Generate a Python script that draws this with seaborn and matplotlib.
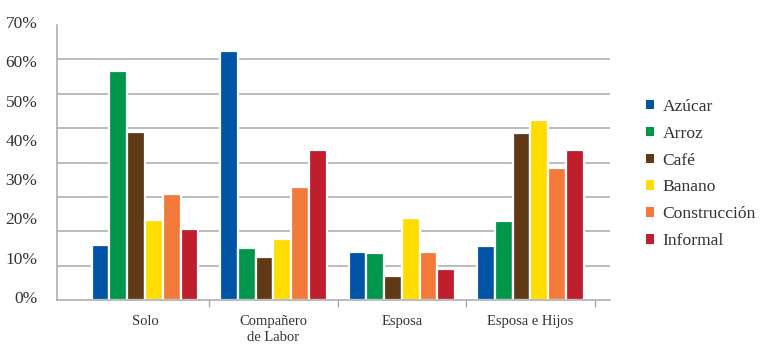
import numpy as np
import pandas as pd
import matplotlib
matplotlib.use("Agg")
import matplotlib.pyplot as plt
import matplotlib.transforms as mtransforms
import seaborn as sns

# datos (%)
categories = ["Solo", "Compañero\nde Labor", "Esposa", "Esposa e Hijos"]
sectors = ["Azúcar", "Arroz", "Café", "Banano", "Construcción", "Informal"]
azucar = [14.0, 63.5, 12.2, 13.7]
arroz = [58.3, 13.3, 12.0, 20.2]
cafe = [42.8, 11.0, 6.1, 42.5]
banano = [20.4, 15.6, 20.9, 45.7]
construccion = [26.9, 28.8, 12.2, 33.7]
informal = [18.2, 38.1, 7.8, 38.2]
y_labels = ["0%", "10%", "20%", "30%", "40%", "50%", "60%", "70%"]

colors = ["#0054A6", "#00964B", "#603A17", "#FFDD00", "#F47A3C", "#BE1E2D"]

series = [azucar, arroz, cafe, banano, construccion, informal]
rows = []
for sector, vals in zip(sectors, series):
    for cat, v in zip(categories, vals):
        rows.append({"grupo": cat, "sector": sector, "valor": v})
df = pd.DataFrame(rows)

sns.set_theme(style="white")
plt.rcParams['font.family'] = ['Liberation Serif', 'DejaVu Serif']
text_color = "#333333"
grid_color = "#a8a8a8"

fig = plt.figure(figsize=(7.62, 3.46), dpi=100)
ax = fig.add_axes([57 / 762, 1 - 300 / 346, (610 - 57) / 762, 275 / 346])

sns.barplot(data=df, x="grupo", y="valor", hue="sector", order=categories,
            hue_order=sectors, palette=colors, width=0.83, edgecolor="white",
            linewidth=1.6, saturation=1, ax=ax)

ax.set_ylim(0, 70)
ax.set_xlim(-0.685, 3.62)
ax.set_xlabel("")
ax.set_ylabel("")

# lineas de cuadricula (8 intervalos)
ax.set_axisbelow(True)
ax.set_yticks(range(0, 80, 10))
ax.set_yticklabels(y_labels, fontsize=12.5, color=text_color)
ax.set_yticks(np.linspace(0, 70, 9), minor=True)
ax.grid(False)
ax.grid(which="minor", axis="y", color=grid_color, linewidth=1.1)
ax.tick_params(axis="y", which="both", length=0, pad=14)

ax.set_xticks(range(len(categories)))
ax.set_xticklabels(categories, fontsize=10.5, color=text_color, linespacing=1.3)
ax.set_xticks([0.5, 1.5, 2.5, 3.5], minor=True)
ax.tick_params(axis="x", which="major", length=0, pad=11)
ax.tick_params(axis="x", which="minor", length=5, width=1, color=grid_color,
               bottom=True)

for side in ["top", "right"]:
    ax.spines[side].set_visible(False)
for side in ["left", "bottom"]:
    ax.spines[side].set_color(grid_color)
    ax.spines[side].set_linewidth(1.1)

# etiquetas del eje y un poco desplazadas hacia arriba
offset = mtransforms.ScaledTranslation(0, 3 / 100, fig.dpi_scale_trans)
for lbl in ax.get_yticklabels():
    lbl.set_transform(lbl.get_transform() + offset)

handles, labels = ax.get_legend_handles_labels()
ax.legend(handles, labels, loc="center left",
          bbox_to_anchor=(646 / 762, 1 - 174 / 346),
          bbox_transform=fig.transFigure, frameon=False,
          handlelength=0.45, handleheight=0.45, handletextpad=0.5,
          labelspacing=0.62, borderpad=0, borderaxespad=0,
          fontsize=12.6, labelcolor=text_color)
for h in ax.get_legend().legend_handles:
    h.set_edgecolor("none")

plt.savefig("out.png", dpi=100)
